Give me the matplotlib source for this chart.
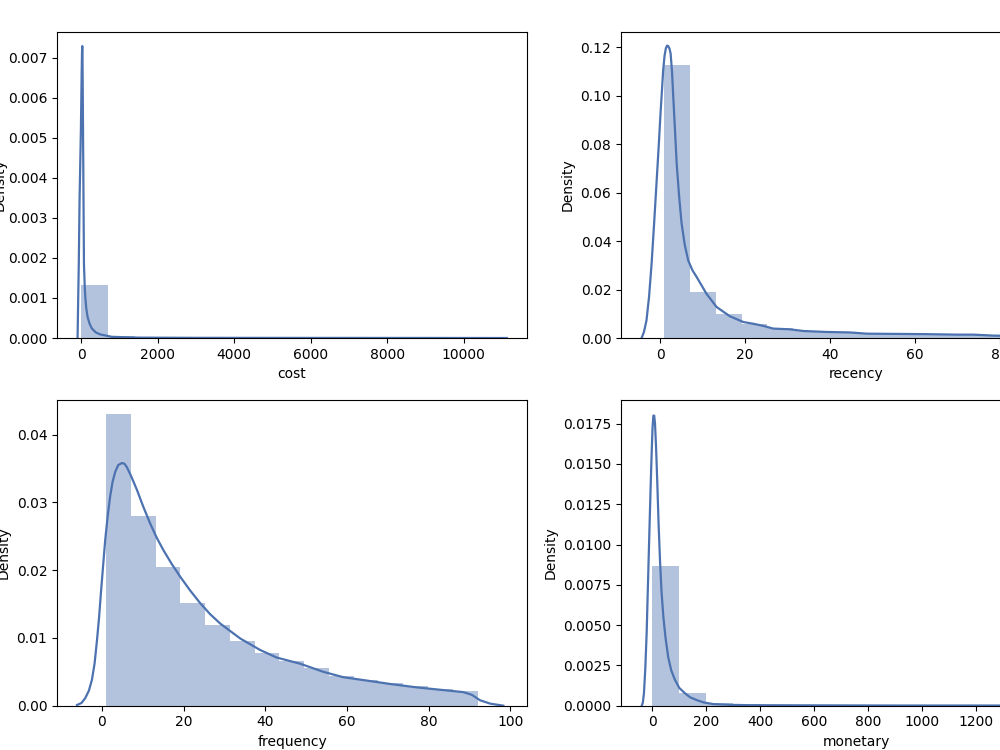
import matplotlib
matplotlib.use("Agg")
import matplotlib.pyplot as plt

BLUE = "#4c72b0"

# ---- cost ----
cost_edges = [0, 697, 1394, 2091, 2788, 3485, 4182, 4879, 5576, 6273,
              6970, 7667, 8364, 9061, 9758, 10455]
cost_hist = [0.001335, 0.00004, 0.000015, 0.000008, 0.000005, 0.000003, 0.000002,
             0.000002, 0.000001, 0.000001, 0.000001, 0.000001, 0.0, 0.0, 0.000001]
cost_kde_x = [-97, -80, -65, -44, -10, 10, 20, 26, 32, 40, 52, 70, 90, 105, 130,
              165, 220, 280, 380, 497, 800, 1500, 3000, 6000, 9000, 11130]
cost_kde_y = [0.0, 0.0010, 0.00186, 0.0035, 0.00519, 0.0066, 0.00715, 0.00729,
              0.0070, 0.0060, 0.00436, 0.00186, 0.00130, 0.00103, 0.00075,
              0.000525, 0.00035, 0.000235, 0.00014, 0.00009, 0.00003, 0.00001,
              0.000005, 0.000003, 0.000002, 0.0]

# ---- recency ----
rec_edges = [1, 7.07, 13.13, 19.2, 25.27, 31.33, 37.4, 43.47, 49.53, 55.6,
             61.67, 67.73, 73.8, 79.87, 85.93, 92]
rec_hist = [0.1127, 0.0190, 0.0101, 0.0057, 0.0040, 0.0030, 0.0024, 0.0020,
            0.0017, 0.0016, 0.0015, 0.0014, 0.0012, 0.0010, 0.0008]
rec_kde_x = [-4.35, -3.8, -3.2, -2.6, -2.0, -1.4, -0.8, -0.3, 0.1, 0.45, 0.73,
             1.05, 1.36, 1.65, 1.9, 2.2, 2.47, 2.8, 3.1, 3.5, 3.9, 4.5, 5.06,
             5.8, 6.6, 7.6, 8.6, 10.9, 13.3, 16.4, 19.6, 21.9, 24.3, 26.6, 30.5,
             33.7, 39.2, 44.7, 48.6, 55.6, 62.7, 69.8, 73.7, 78.4, 82, 88, 93, 97]
rec_kde_y = [0.0, 0.0025, 0.0073, 0.0170, 0.0307, 0.0475, 0.0652, 0.0800,
             0.0927, 0.1025, 0.1106, 0.1165, 0.1196, 0.1207, 0.1205, 0.1195,
             0.1175, 0.1100, 0.0996, 0.0860, 0.072, 0.058, 0.0473, 0.0385,
             0.0321, 0.0280, 0.0252, 0.0183, 0.0128, 0.0090, 0.0066, 0.0059,
             0.0050, 0.0039, 0.0036, 0.0029, 0.0025, 0.0023, 0.0018, 0.0017,
             0.0016, 0.0014, 0.0014, 0.0010, 0.0009, 0.0007, 0.0003, 0.0]

# ---- frequency ----
freq_edges = [1, 7.07, 13.13, 19.2, 25.27, 31.33, 37.4, 43.47, 49.53, 55.6,
              61.67, 67.73, 73.8, 79.87, 85.93, 92]
freq_hist = [0.0431, 0.0280, 0.0205, 0.0152, 0.0119, 0.0096, 0.0078, 0.0066,
             0.0055, 0.0044, 0.0038, 0.0033, 0.0029, 0.0025, 0.0022]
freq_kde_x = [-6.1, -5.0, -4.1, -3.2, -2.45, -1.8, -1.2, -0.7, -0.25, 0.3, 0.8,
              1.4, 2.0, 2.6, 3.26, 4.0, 4.9, 5.5, 6.1, 7.2, 8.6, 10.1, 11.8,
              13.4, 15.1, 17.1, 19.2, 21.6, 24.1, 26.5, 29.0, 33.9, 38.8, 42.8,
              48.5, 54.2, 59.1, 64.9, 70.6, 77.1, 83.6, 88.5, 90.6, 92.6, 95.1,
              98.3]
freq_kde_y = [0.0001, 0.0004, 0.0011, 0.0022, 0.0038, 0.0062, 0.0097, 0.0130,
              0.0166, 0.0207, 0.0244, 0.0279, 0.0308, 0.0330, 0.0345, 0.0355,
              0.0358, 0.0357, 0.0352, 0.0338, 0.0318, 0.0294, 0.0269, 0.0248,
              0.0229, 0.0209, 0.0190, 0.0170, 0.0151, 0.0135, 0.0121, 0.0099,
              0.0082, 0.0071, 0.0062, 0.0050, 0.0042, 0.0037, 0.0032, 0.0027,
              0.0023, 0.0020, 0.0016, 0.0008, 0.0003, 0.0]

# ---- monetary ----
mon_edges = [0, 100, 200, 300, 400, 500, 600, 700, 800, 900, 1000, 1100,
             1200, 1300, 1400, 1500]
mon_hist = [0.00869, 0.00077, 0.00018, 0.00009, 0.00006, 0.00004, 0.00003,
            0.00002, 0.00002, 0.00001, 0.00001, 0.00001, 0.00001, 0.0, 0.00001]
mon_kde_x = [-39, -35, -31, -26, -21, -16, -11, -6, -2, 1, 4, 7, 10, 14, 18.5,
             23, 28.5, 34, 41, 49, 59, 70, 84, 100, 121, 140, 164, 190, 226,
             290, 362, 600, 900, 1200, 1500, 1600]
mon_kde_y = [0.0, 0.0002, 0.00077, 0.0023, 0.0045, 0.0076, 0.0107, 0.0137,
             0.0159, 0.0173, 0.0180, 0.0180, 0.0175, 0.0160, 0.0138, 0.0114,
             0.0090, 0.0071, 0.0055, 0.0042, 0.0030, 0.0022, 0.0016, 0.0011,
             0.00077, 0.00052, 0.00035, 0.0002, 0.0001, 0.00005, 0.00003,
             0.00002, 0.00001, 0.00001, 0.000005, 0.0]

panels = [
    # name, edges, hist, kde x, kde y, xlim, ylim, xticks, axes rect, labelpad
    ("cost", cost_edges, cost_hist, cost_kde_x, cost_kde_y,
     (-635, 11660), (0, 0.00764), [0, 2000, 4000, 6000, 8000, 10000],
     [0.057, 0.5493, 0.470, 0.408], 1),
    ("recency", rec_edges, rec_hist, rec_kde_x, rec_kde_y,
     (-9.2, 101.4), (0, 0.1263), [0, 20, 40, 60, 80, 100],
     [0.621, 0.5493, 0.470, 0.408], 4),
    ("frequency", freq_edges, freq_hist, freq_kde_x, freq_kde_y,
     (-11.0, 104.1), (0, 0.0451), [0, 20, 40, 60, 80, 100],
     [0.057, 0.0591, 0.470, 0.4076], 4),
    ("monetary", mon_edges, mon_hist, mon_kde_x, mon_kde_y,
     (-116, 1625), (0, 0.01897), [0, 200, 400, 600, 800, 1000, 1200, 1400],
     [0.621, 0.0591, 0.470, 0.4076], 4),
]

fig = plt.figure(figsize=(10, 7.5), dpi=100)

for name, edges, hist, kx, ky, xlim, ylim, xticks, rect, pad in panels:
    ax = fig.add_axes(rect)
    ax.stairs(hist, edges, fill=True, color=BLUE, alpha=0.42, linewidth=0)
    ax.plot(kx, ky, color=BLUE, linewidth=1.6)
    ax.set_xlim(*xlim)
    ax.set_ylim(*ylim)
    ax.set_xticks(xticks)
    ax.set_xlabel(name)
    ax.set_ylabel("Density", labelpad=pad)

fig.savefig("out.png", dpi=100)
